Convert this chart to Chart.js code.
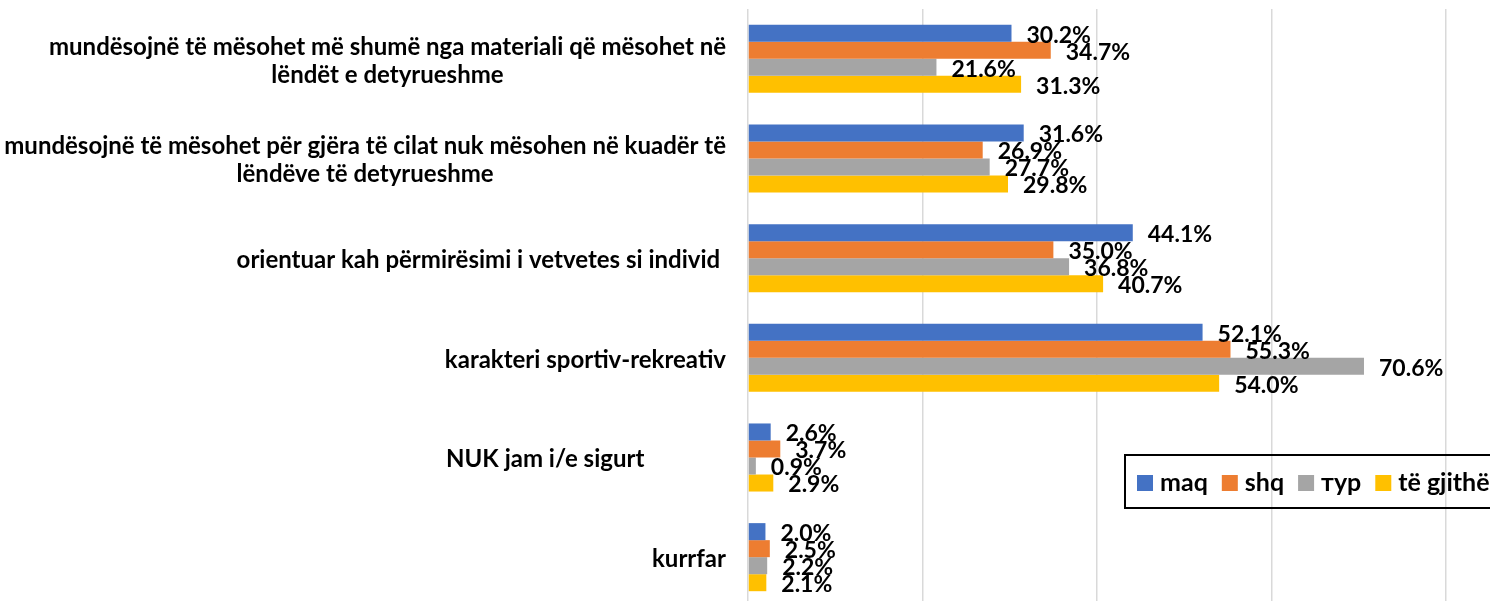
<!DOCTYPE html>
<html lang="sq">
<head>
  <meta charset="UTF-8">
  <title>Chart</title>
  <script src="https://cdn.jsdelivr.net/npm/chart.js"></script>
  <style>
    html, body { margin: 0; padding: 0; background: #fff; overflow: hidden; }
    #wrap { width: 1500px; height: 607px; position: relative; }
  </style>
</head>
<body>
  <div id="wrap"><canvas id="chart"></canvas></div>
  <script>
    // categories (each one an array of lines)
    const categories = [
      ['mundësojnë të mësohet më shumë nga materiali që mësohet në', 'lëndët e detyrueshme'],
      ['mundësojnë të mësohet për gjëra të cilat nuk mësohen në kuadër të', 'lëndëve të detyrueshme'],
      ['orientuar kah përmirësimi i vetvetes si individ '],
      ['karakteri sportiv-rekreativ'],
      ['NUK jam i/e sigurt              '],
      ['kurrfar']
    ];
    const seriesNames = ['maq', 'shq', 'тур', 'të gjithë'];
    const maq = [30.2, 31.6, 44.1, 52.1, 2.6, 2.0];
    const shq = [34.7, 26.9, 35.0, 55.3, 3.7, 2.5];
    const tur = [21.6, 27.7, 36.8, 70.6, 0.9, 2.2];
    const gjithe = [31.3, 29.8, 40.7, 54.0, 2.9, 2.1];
    const colors = ['#4472C4', '#ED7D31', '#A5A5A5', '#FFC000'];

    const FONT = 'Lato, "Open Sans", sans-serif';

    // value labels, category labels and the legend box, drawn like the Excel original
    const excelBits = {
      id: 'excelBits',
      afterDatasetsDraw(chart) {
        const ctx = chart.ctx;
        ctx.save();
        ctx.fillStyle = '#000';
        ctx.textBaseline = 'middle';
        ctx.textAlign = 'left';

        // value labels at the end of each bar
        ctx.font = 'bold 23px ' + FONT;
        chart.data.datasets.forEach((ds, i) => {
          chart.getDatasetMeta(i).data.forEach((bar, j) => {
            ctx.fillText(ds.data[j].toFixed(1) + '%', bar.x + 15, bar.y + 2);
          });
        });

        // category labels: block right aligned, lines centred inside it
        const yScale = chart.scales.y;
        const right = chart.chartArea.left - 22;
        const lineH = 28;
        ctx.font = 'bold 24px ' + FONT;
        categories.forEach((lines, j) => {
          const cy = yScale.getPixelForValue(j) + 2;
          const w = Math.max(...lines.map(l => ctx.measureText(l).width));
          const cx = right - w / 2;
          lines.forEach((l, k) => {
            const y = cy + (k - (lines.length - 1) / 2) * lineH;
            const lw = ctx.measureText(l).width;
            ctx.fillText(l, cx - lw / 2, y);
          });
        });
        ctx.restore();
      },
      afterDraw(chart) {
        const ctx = chart.ctx;
        ctx.save();
        const boxL = 1125, boxT = 455, boxB = 508, boxR = 1490;
        ctx.strokeStyle = '#000';
        ctx.lineWidth = 2;
        ctx.beginPath();
        ctx.moveTo(boxR, boxT);
        ctx.lineTo(boxL, boxT);
        ctx.lineTo(boxL, boxB);
        ctx.lineTo(boxR, boxB);
        ctx.stroke();

        ctx.font = 'bold 25px ' + FONT;
        ctx.textBaseline = 'middle';
        ctx.textAlign = 'left';
        let x = 1137;
        const cy = 483;
        chart.data.datasets.forEach(ds => {
          ctx.fillStyle = ds.backgroundColor;
          ctx.fillRect(x, cy - 8, 16, 16);
          x += 23;
          ctx.fillStyle = '#000';
          ctx.fillText(ds.label, x, cy);
          x += ctx.measureText(ds.label).width + 14;
        });
        ctx.restore();
      }
    };

    const values = [maq, shq, tur, gjithe];

    new Chart(document.getElementById('chart'), {
      type: 'bar',
      data: {
        labels: categories,
        datasets: values.map((v, i) => ({
          label: seriesNames[i],
          data: v,
          backgroundColor: colors[i],
          borderWidth: 0,
          categoryPercentage: 0.683,
          barPercentage: 1
        }))
      },
      options: {
        indexAxis: 'y',
        responsive: true,
        maintainAspectRatio: false,
        animation: false,
        layout: { padding: { left: 748, right: 54, top: 9, bottom: 0 } },
        plugins: {
          legend: { display: false },
          tooltip: { enabled: false }
        },
        scales: {
          x: {
            min: 0,
            max: 80,
            ticks: { display: false, stepSize: 20 },
            grid: { color: '#D9D9D9', lineWidth: 1.5, drawTicks: false },
            border: { display: false }
          },
          y: {
            display: false
          }
        }
      },
      plugins: [excelBits]
    });
  </script>
</body>
</html>
